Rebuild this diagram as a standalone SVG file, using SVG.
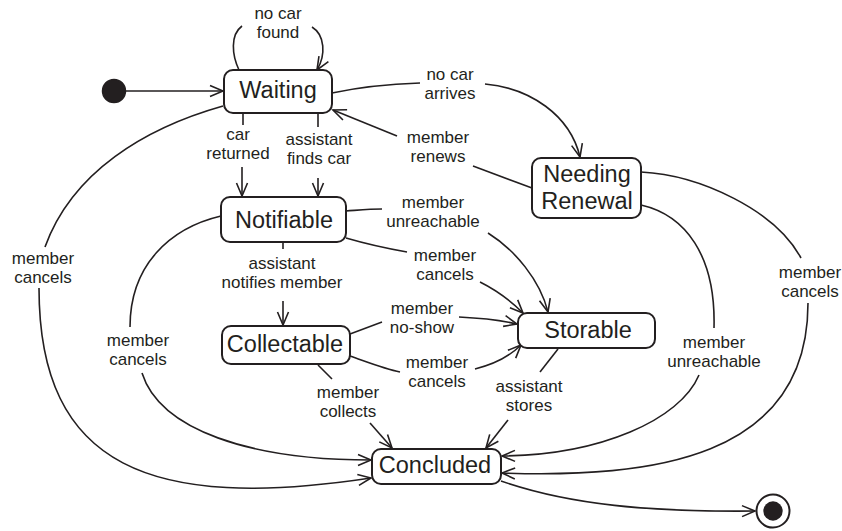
<svg xmlns="http://www.w3.org/2000/svg" width="842" height="531" viewBox="0 0 842 531">
<style>
.box{fill:#fff;stroke:#231f20;stroke-width:2}
.nt{font-family:"Liberation Sans",Arial,sans-serif;font-size:23.5px;fill:#231f20;text-anchor:middle}
.lb{font-family:"Liberation Sans",Arial,sans-serif;font-size:17px;fill:#231f20;text-anchor:middle}
.c{fill:none;stroke:#231f20;stroke-width:1.6}
.a{marker-end:url(#arr)}
</style>
<defs>
<marker id="arr" markerUnits="userSpaceOnUse" markerWidth="16" markerHeight="14" refX="14" refY="7" orient="auto">
<path d="M1,1.5 L14,7 L1,12.5" fill="none" stroke="#231f20" stroke-width="1.6"/>
</marker>
</defs>
<rect width="842" height="531" fill="#fff"/>
<g id="connectors">
<path class="c a" d="M126,91 L223,91"/>
<path class="c" d="M239,70 C232,55 230,35 242,26"/>
<path class="c a" d="M312,27 C325,35 326,55 317,70"/>
<path class="c" d="M332,93 C360,87 390,84 420,83"/>
<path class="c a" d="M485,84 C530,88 570,115 580,157"/>
<path class="c" d="M532,188 L473,166"/>
<path class="c a" d="M397,136 L333,110"/>
<path class="c" d="M243,113 L243,125"/>
<path class="c a" d="M242,167 L242,196"/>
<path class="c" d="M318,113 L318,127"/>
<path class="c a" d="M318,178 L318,196"/>
<path class="c" d="M223,106 C145,128 72,172 45,247"/>
<path class="c a" d="M39,288 C39,468 152,511 371,478"/>
<path class="c" d="M221,216 C170,228 130,265 130,327"/>
<path class="c a" d="M142,373 C160,430 250,460 371,460"/>
<path class="c" d="M346,211 C360,210 370,209 382,209"/>
<path class="c a" d="M488,233 C515,250 540,280 548,312"/>
<path class="c" d="M346,238 C370,245 390,249 407,252"/>
<path class="c a" d="M480,282 C500,292 512,302 523,313"/>
<path class="c" d="M283,242 L283,249"/>
<path class="c a" d="M283,301 L283,325"/>
<path class="c" d="M350,334 L382,322"/>
<path class="c a" d="M459,317 C480,318 500,320 517,324"/>
<path class="c" d="M350,356 C370,363 385,369 400,372"/>
<path class="c a" d="M475,369 C495,364 510,356 521,345"/>
<path class="c" d="M318,365 L332,379"/>
<path class="c a" d="M370,423 L392,448"/>
<path class="c" d="M558,349 L540,372"/>
<path class="c a" d="M508,420 L486,448"/>
<path class="c" d="M641,205 C685,215 716,255 714,328"/>
<path class="c a" d="M699,375 C680,420 600,455 502,456"/>
<path class="c" d="M641,172 C700,175 775,210 801,258"/>
<path class="c a" d="M808,303 C808,460 650,478 502,473"/>
<path class="c a" d="M501,481 C570,505 650,512 755,511"/>
</g>
<g id="labels">
<text class="lb" x="278" y="18.5">no car<tspan x="278" dy="19">found</tspan></text>
<text class="lb" x="450" y="80">no car<tspan x="450" dy="19">arrives</tspan></text>
<text class="lb" x="438" y="143">member<tspan x="438" dy="19">renews</tspan></text>
<text class="lb" x="238" y="139.5">car<tspan x="238" dy="19">returned</tspan></text>
<text class="lb" x="319" y="144.5">assistant<tspan x="319" dy="19">finds car</tspan></text>
<text class="lb" x="43" y="264">member<tspan x="43" dy="19">cancels</tspan></text>
<text class="lb" x="138" y="346">member<tspan x="138" dy="19">cancels</tspan></text>
<text class="lb" x="433" y="208">member<tspan x="433" dy="19">unreachable</tspan></text>
<text class="lb" x="445" y="261">member<tspan x="445" dy="19">cancels</tspan></text>
<text class="lb" x="282" y="268.5">assistant<tspan x="282" dy="19">notifies member</tspan></text>
<text class="lb" x="422" y="313.5">member<tspan x="422" dy="19">no-show</tspan></text>
<text class="lb" x="437" y="368">member<tspan x="437" dy="19">cancels</tspan></text>
<text class="lb" x="348" y="397.5">member<tspan x="348" dy="19">collects</tspan></text>
<text class="lb" x="529" y="392">assistant<tspan x="529" dy="19">stores</tspan></text>
<text class="lb" x="714" y="348">member<tspan x="714" dy="19">unreachable</tspan></text>
<text class="lb" x="810" y="277.5">member<tspan x="810" dy="19">cancels</tspan></text>
</g>
<g id="initial"><circle cx="114" cy="91" r="11.5" fill="#231f20" stroke="#231f20" stroke-width="1.5"/></g>
<g id="final"><circle cx="773" cy="511" r="16.5" fill="#fff" stroke="#231f20" stroke-width="2"/><circle cx="773" cy="511" r="9.7" fill="#231f20"/></g>
<g id="waiting"><rect class="box" x="224" y="70" width="108" height="43" rx="9"/><text class="nt" x="278" y="98">Waiting</text></g>
<g id="needing-renewal"><rect class="box" x="532" y="158" width="109" height="60" rx="9"/><text class="nt" x="587" y="182">Needing<tspan x="587" dy="27">Renewal</tspan></text></g>
<g id="notifiable"><rect class="box" x="221" y="197" width="125" height="45" rx="9"/><text class="nt" x="284" y="228">Notifiable</text></g>
<g id="collectable"><rect class="box" x="222" y="326" width="128" height="38" rx="9"/><text class="nt" x="285" y="352">Collectable</text></g>
<g id="storable"><rect class="box" x="518" y="313" width="137" height="35" rx="9"/><text class="nt" x="588" y="338">Storable</text></g>
<g id="concluded"><rect class="box" x="372" y="449" width="129" height="35" rx="9"/><text class="nt" x="435" y="473">Concluded</text></g>
</svg>
